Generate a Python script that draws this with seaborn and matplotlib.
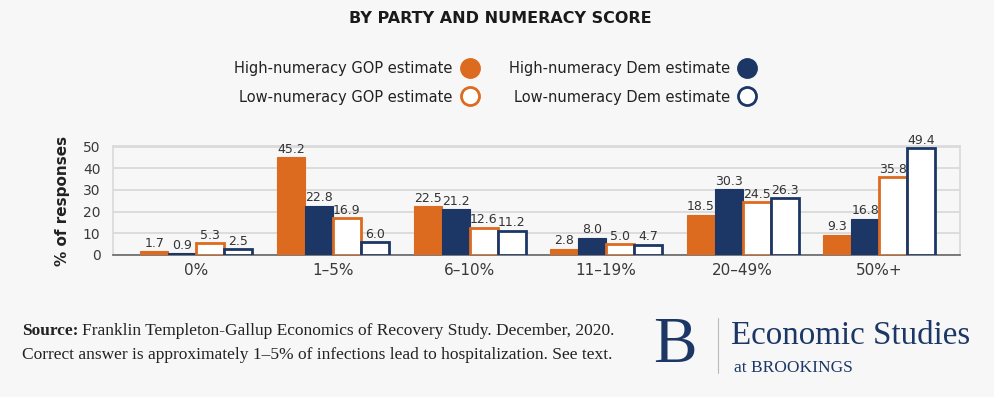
import pandas as pd
import matplotlib.pyplot as plt
from matplotlib.lines import Line2D
import seaborn as sns


# Chart values
categories = ["0%", "1–5%", "6–10%", "11–19%", "20–49%", "50%+"]
series_names = ["High-numeracy GOP estimate", "High-numeracy Dem estimate",
                "Low-numeracy GOP estimate", "Low-numeracy Dem estimate"]
high_gop = [1.7, 45.2, 22.5, 2.8, 18.5, 9.3]
high_dem = [0.9, 22.8, 21.2, 8.0, 30.3, 16.8]
low_gop = [5.3, 16.9, 12.6, 5.0, 24.5, 35.8]
low_dem = [2.5, 6.0, 11.2, 4.7, 26.3, 49.4]
y_ticks = [0, 10, 20, 30, 40, 50]

ORANGE = "#DD6B1F"
NAVY = "#1C3766"
BG = "#F7F7F7"

# Build a long table for seaborn
rows = []
for name, vals in zip(series_names, [high_gop, high_dem, low_gop, low_dem]):
    for cat, v in zip(categories, vals):
        rows.append({"category": cat, "series": name, "value": v})
df = pd.DataFrame(rows)

sns.set_style("white")
plt.rcParams['font.family'] = ['DejaVu Sans']

fig = plt.figure(figsize=(9.94, 3.97), dpi=100, facecolor=BG)
ax = fig.add_axes([0.1137, 0.358, 0.852, 0.274], facecolor=BG)

sns.barplot(data=df, x="category", y="value", hue="series", order=categories,
            hue_order=series_names, width=0.82, legend=False, ax=ax)

# Style each series: filled for high-numeracy, hollow for low-numeracy
styles = [(ORANGE, ORANGE), (NAVY, NAVY), ("white", ORANGE), ("white", NAVY)]
for container, (fc, ec) in zip(ax.containers, styles):
    for bar in container:
        bar.set_facecolor(fc)
        bar.set_edgecolor(ec)
        bar.set_linewidth(2 if fc == "white" else 0.8)
        bar.set_zorder(3)
    ax.bar_label(container, fmt="%.1f", padding=1, fontsize=9, color="#333333")

ax.set_ylim(0, 50.3)
ax.set_xlim(-0.61, 5.59)
ax.set_yticks(y_ticks)
ax.grid(axis="y", color="#DADADA", linewidth=1.3, zorder=0)
ax.set_axisbelow(True)
ax.tick_params(axis="y", labelsize=10, colors="#3A3A3A", length=0, pad=9)
ax.tick_params(axis="x", labelsize=11, colors="#3A3A3A", length=0, pad=6)
ax.set_xlabel("")
ax.set_ylabel("% of responses", fontsize=11, fontweight="bold", color="#222222", labelpad=9)
for side in ["left", "top", "right"]:
    ax.spines[side].set_color("#DADADA")
    ax.spines[side].set_linewidth(1.2)
ax.spines["bottom"].set_color("#666666")
ax.spines["bottom"].set_linewidth(1.2)

# Title
fig.text(0.503, 0.953, "BY PARTY AND NUMERACY SCORE", ha="center", va="center",
         fontsize=11.5, fontweight="bold", color="#1A1A1A")

# Legend (text left of marker, two columns)
handles = [
    Line2D([], [], marker="o", linestyle="", markersize=13, markerfacecolor=ORANGE,
           markeredgecolor=ORANGE, markeredgewidth=2, label=series_names[0]),
    Line2D([], [], marker="o", linestyle="", markersize=13, markerfacecolor="white",
           markeredgecolor=ORANGE, markeredgewidth=2, label=series_names[2]),
    Line2D([], [], marker="o", linestyle="", markersize=13, markerfacecolor=NAVY,
           markeredgecolor=NAVY, markeredgewidth=2, label=series_names[1]),
    Line2D([], [], marker="o", linestyle="", markersize=13, markerfacecolor="white",
           markeredgecolor=NAVY, markeredgewidth=2, label=series_names[3]),
]
fig.legend(handles=handles, ncol=2, markerfirst=False, frameon=False,
           loc="center", bbox_to_anchor=(0.498, 0.792), fontsize=10.5,
           labelcolor="#222222", columnspacing=2.1, handletextpad=0.55,
           labelspacing=0.95, handlelength=1.2)

# Footer source note: bold "Source:" followed by the regular text
serif = "Liberation Serif"
src = fig.text(0.022, 0.165, "Source:", fontsize=12.5, family=serif, fontweight="bold",
               color="#222222", va="center")
fig.canvas.draw()
bb = src.get_window_extent().transformed(fig.transFigure.inverted())
fig.text(bb.x1 + 0.004, 0.165,
         "Franklin Templeton-Gallup Economics of Recovery Study. December, 2020.",
         fontsize=12.5, family=serif, color="#222222", va="center")
fig.text(0.022, 0.106, "Correct answer is approximately 1–5% of infections lead to hospitalization. See text.",
         fontsize=12.5, family=serif, color="#222222", va="center")

# Brookings logo
fig.text(0.657, 0.128, "B", fontsize=47, family=serif, color=NAVY, va="center")
fig.add_artist(Line2D([0.722, 0.722], [0.06, 0.2], transform=fig.transFigure,
                      color="#BBBBBB", linewidth=0.8))
fig.text(0.735, 0.155, "Economic Studies", fontsize=23.8, family=serif,
         color=NAVY, va="center")
fig.text(0.738, 0.072, "at BROOKINGS", fontsize=12.5, family=serif,
         color=NAVY, va="center")

fig.savefig("out.png", dpi=100, facecolor=BG)
